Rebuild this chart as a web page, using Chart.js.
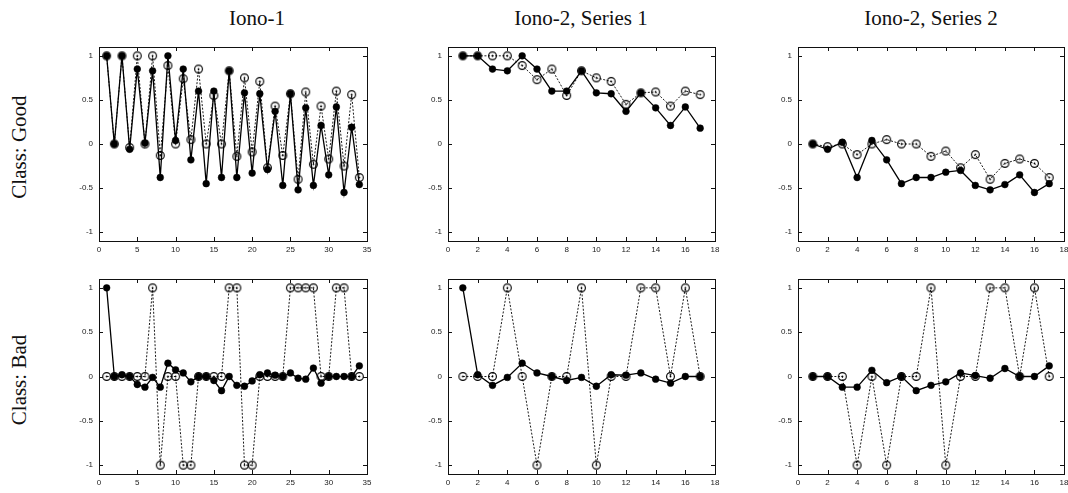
<!DOCTYPE html>
<html><head><meta charset="utf-8">
<script src="https://cdn.jsdelivr.net/npm/chart.js@4.4.1/dist/chart.umd.min.js"></script>
<style>
html,body{margin:0;padding:0;background:#fff}
body{width:1068px;height:493px;position:relative;overflow:hidden;font-family:"Liberation Serif","DejaVu Serif",serif;color:#111}
canvas{position:absolute}
.title{position:absolute;font-size:21px;text-align:center;white-space:nowrap;line-height:1;transform:translateX(-50%)}
.row{position:absolute;font-size:21px;white-space:nowrap;line-height:1;transform:translate(-50%,-50%) rotate(-90deg)}
</style></head><body>
<script>
// ---------- data ----------
const xIono1 = [1,2,3,4,5,6,7,8,9,10,11,12,13,14,15,16,17,18,19,20,21,22,23,24,25,26,27,28,29,30,31,32,33,34];
const xIono2 = [1,2,3,4,5,6,7,8,9,10,11,12,13,14,15,16,17];

const xTicksIono1 = [0,5,10,15,20,25,30,35];
const xTicksIono2 = [0,2,4,6,8,10,12,14,16,18];
const yTicks = [-1,-0.5,0,0.5,1];

const columnTitles = ["Iono-1","Iono-2, Series 1","Iono-2, Series 2"];
const rowTitles = ["Class: Good","Class: Bad"];

const goodIono1Solid = [1.00,0.00,1.00,-0.06,0.85,0.01,0.83,-0.38,1.00,0.04,0.85,-0.18,0.60,-0.45,0.60,-0.38,0.83,-0.38,0.58,-0.33,0.57,-0.29,0.37,-0.47,0.57,-0.52,0.41,-0.47,0.21,-0.35,0.42,-0.55,0.19,-0.46];
const goodIono1Open  = [1.00,0.00,1.00,-0.04,1.00,0.00,1.00,-0.13,0.89,0.00,0.74,0.05,0.85,0.00,0.55,0.00,0.83,-0.14,0.75,-0.09,0.71,-0.27,0.43,-0.13,0.57,-0.40,0.59,-0.23,0.43,-0.17,0.60,-0.25,0.56,-0.38];

const goodS1Solid = [1.00,1.00,0.85,0.83,1.00,0.85,0.60,0.60,0.83,0.58,0.57,0.37,0.58,0.41,0.21,0.42,0.18];
const goodS1Open  = [1.00,1.00,1.00,1.00,0.89,0.73,0.85,0.55,0.83,0.75,0.71,0.45,0.58,0.59,0.43,0.60,0.56];

const goodS2Solid = [0.00,-0.06,0.02,-0.38,0.04,-0.18,-0.45,-0.38,-0.38,-0.32,-0.30,-0.47,-0.52,-0.46,-0.35,-0.55,-0.45];
const goodS2Open  = [0.00,-0.03,0.00,-0.12,0.00,0.05,0.00,0.00,-0.14,-0.08,-0.27,-0.12,-0.40,-0.22,-0.17,-0.22,-0.38];

const badIono1Solid = [1.00,0.00,0.02,0.00,-0.09,-0.12,-0.01,-0.12,0.15,0.075,0.04,-0.06,0.00,0.00,-0.045,-0.16,0.00,-0.10,-0.11,-0.05,0.02,0.04,0.015,0.00,0.04,-0.02,-0.03,0.095,-0.075,0.00,0.00,0.00,0.00,0.12];
const badIono1Open  = [0,0,0,0,0,0,1,-1,0,0,-1,-1,0,0,0,0,1,1,-1,-1,0,0,0,0,1,1,1,1,0,0,1,1,0,0];

const badS1Solid = [1.00,0.02,-0.10,-0.01,0.15,0.04,0.00,-0.045,-0.01,-0.11,0.02,0.015,0.04,-0.03,-0.075,0.00,0.00];
const badS1Open  = [0,0,0,1,0,-1,0,0,1,-1,0,0,1,1,0,1,0];

const badS2Solid = [0.00,0.00,-0.12,-0.12,0.07,-0.07,0.00,-0.16,-0.10,-0.06,0.04,0.01,-0.02,0.09,0.00,0.00,0.12];
const badS2Open  = [0,0,0,-1,0,-1,0,0,1,-1,0,0,1,1,0,1,0];

// ---------- layout ----------
const cols = [{L:99,W:268},{L:448,W:267},{L:798,W:266}];
const rows = [{T:47,H:194},{T:279,H:195}];
const titleCenters = [257,581,931];
const AXW = 40, AXH = 20, PAD = 5;

const panels = [
  {r:0,c:0,x:xIono1,xt:xTicksIono1,xmax:35,solid:goodIono1Solid,open:goodIono1Open},
  {r:0,c:1,x:xIono2,xt:xTicksIono2,xmax:18,solid:goodS1Solid,open:goodS1Open},
  {r:0,c:2,x:xIono2,xt:xTicksIono2,xmax:18,solid:goodS2Solid,open:goodS2Open},
  {r:1,c:0,x:xIono1,xt:xTicksIono1,xmax:35,solid:badIono1Solid,open:badIono1Open},
  {r:1,c:1,x:xIono2,xt:xTicksIono2,xmax:18,solid:badS1Solid,open:badS1Open},
  {r:1,c:2,x:xIono2,xt:xTicksIono2,xmax:18,solid:badS2Solid,open:badS2Open}
];

function makeOpenMarker(){
  const c=document.createElement('canvas'); c.width=11; c.height=11;
  const g=c.getContext('2d');
  g.strokeStyle='#000'; g.lineWidth=1.15;
  g.beginPath(); g.arc(5.5,5.5,3.9,0,Math.PI*2); g.stroke();
  g.fillStyle='#000'; g.beginPath(); g.arc(5.5,5.5,0.9,0,Math.PI*2); g.fill();
  return c;
}
const openMarker = makeOpenMarker();

const framePlugin = {
  id:'frame',
  afterDraw(chart){
    const {ctx, chartArea:a, scales} = chart;
    const tl = 4;
    ctx.save();
    ctx.strokeStyle='#111'; ctx.lineWidth=1;
    ctx.beginPath();
    scales.x.ticks.forEach(t=>{
      const px = Math.round(scales.x.getPixelForValue(t.value))+0.5;
      ctx.moveTo(px,a.bottom); ctx.lineTo(px,a.bottom-tl);
      ctx.moveTo(px,a.top); ctx.lineTo(px,a.top+tl);
    });
    scales.y.ticks.forEach(t=>{
      const py = Math.round(scales.y.getPixelForValue(t.value))+0.5;
      ctx.moveTo(a.left,py); ctx.lineTo(a.left+tl,py);
      ctx.moveTo(a.right,py); ctx.lineTo(a.right-tl,py);
    });
    ctx.stroke();
    ctx.strokeRect(Math.round(a.left)+0.5, Math.round(a.top)+0.5, Math.round(a.right-a.left), Math.round(a.bottom-a.top));
    ctx.restore();
  }
};

const tickFont = {family:'"Liberation Sans", Arial, sans-serif', size:8};

panels.forEach(p=>{
  const col = cols[p.c], row = rows[p.r];
  const cv = document.createElement('canvas');
  const w = AXW + col.W + PAD, h = PAD + row.H + AXH;
  cv.width = w; cv.height = h;
  cv.style.left = (col.L - AXW) + 'px';
  cv.style.top = (row.T - PAD) + 'px';
  cv.style.width = w + 'px'; cv.style.height = h + 'px';
  document.body.appendChild(cv);
  new Chart(cv, {
    type:'line',
    data:{datasets:[
      {data:p.x.map((v,i)=>({x:v,y:p.solid[i]})), borderColor:'#000', borderWidth:1.3,
       pointStyle:'circle', pointRadius:3.4, pointBackgroundColor:'#000', pointBorderColor:'#000', pointBorderWidth:0.5,
       tension:0, fill:false},
      {data:p.x.map((v,i)=>({x:v,y:p.open[i]})), borderColor:'#000', borderWidth:0.9, borderDash:[2,1.6],
       pointStyle:openMarker, pointRadius:4, tension:0, fill:false}
    ]},
    options:{
      responsive:false, animation:false, devicePixelRatio:1,
      layout:{padding:{top:PAD,right:PAD,left:0,bottom:0}},
      plugins:{legend:{display:false},tooltip:{enabled:false}},
      elements:{point:{hoverRadius:4}},
      scales:{
        x:{type:'linear',min:0,max:p.xmax,
           afterBuildTicks:s=>{s.ticks=p.xt.map(v=>({value:v}));},
           afterFit:s=>{s.height=AXH; s.paddingLeft=0; s.paddingRight=0;},
           grid:{display:false,drawTicks:false}, border:{display:false},
           ticks:{font:tickFont,color:'#222',padding:4,maxRotation:0,autoSkip:false,callback:v=>String(v)}},
        y:{type:'linear',min:-1.1,max:1.1,
           afterBuildTicks:s=>{s.ticks=yTicks.map(v=>({value:v}));},
           afterFit:s=>{s.width=AXW; s.paddingTop=0; s.paddingBottom=0;},
           grid:{display:false,drawTicks:false}, border:{display:false},
           ticks:{font:tickFont,color:'#222',padding:6,autoSkip:false,callback:v=>String(v)}}
      }
    },
    plugins:[framePlugin]
  });
});

columnTitles.forEach((t,i)=>{
  const d=document.createElement('div'); d.className='title'; d.textContent=t;
  d.style.left=titleCenters[i]+'px'; d.style.top='8px';
  document.body.appendChild(d);
});
rowTitles.forEach((t,i)=>{
  const d=document.createElement('div'); d.className='row'; d.textContent=t;
  d.style.left='19px'; d.style.top=(rows[i].T+rows[i].H/2+3)+'px';
  document.body.appendChild(d);
});
</script>
</body></html>
